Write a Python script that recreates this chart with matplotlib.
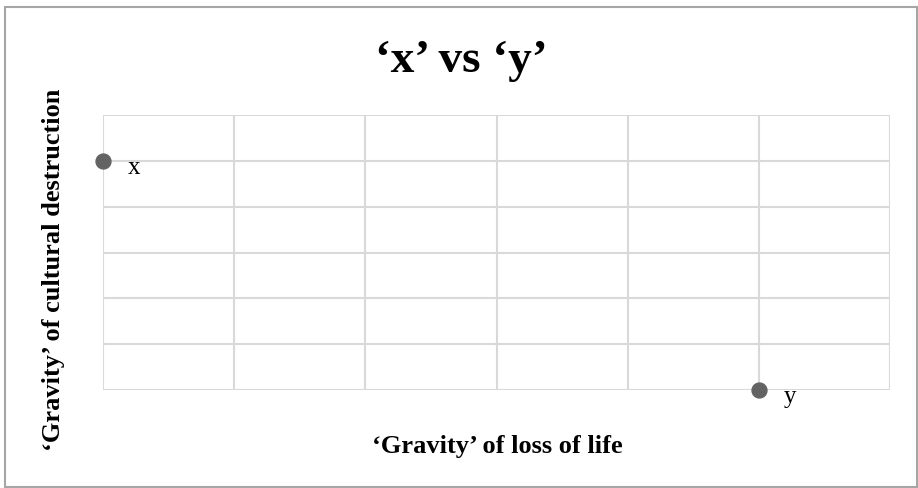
import matplotlib
matplotlib.use("Agg")
import matplotlib.pyplot as plt
from matplotlib.patches import Rectangle

labels = ["x", "y"]
x_vals = [0, 5]
y_vals = [5, 0]
x_max = 6
y_max = 6

plt.rcParams['font.family'] = ['Liberation Serif', 'DejaVu Serif']

fig = plt.figure(figsize=(9.18, 4.88), dpi=100)
W, H = 918, 488
ax = fig.add_axes([103 / W, 1 - 390 / H, (890 - 103) / W, (390 - 115) / H])

ax.set_xlim(0, x_max)
ax.set_ylim(0, y_max)
ax.set_xticks(range(0, x_max + 1))
ax.set_yticks(range(0, y_max + 1))
ax.tick_params(length=0, labelbottom=False, labelleft=False)
ax.grid(True, color='#d9d9d9', linewidth=1.5)
for s in ax.spines.values():
    s.set_visible(False)
ax.set_axisbelow(True)

ax.scatter(x_vals, y_vals, s=115, color='#636363', zorder=3, clip_on=False)
for lab, xv, yv in zip(labels, x_vals, y_vals):
    ax.annotate(lab, (xv, yv), xytext=(18, -9.4), textcoords='offset points',
                fontsize=18, va='baseline', ha='left', color='black')

fig.text(461 / W, 1 - 72 / H, "\u2018x\u2019 vs \u2018y\u2019", fontsize=34, fontweight='bold',
         ha='center', va='baseline')
fig.text(497 / W, 1 - 453 / H, "\u2018Gravity\u2019 of loss of life", fontsize=19,
         fontweight='bold', ha='center', va='baseline')
fig.text(54 / W, 1 - 270 / H, "\u2018Gravity\u2019 of cultural destruction", fontsize=19,
         fontweight='bold', ha='center', va='center', rotation=90)

fig.patches.append(Rectangle((5 / W, 1.5 / H), 912 / W, 480 / H, transform=fig.transFigure,
                             fill=False, edgecolor='#a6a6a6', linewidth=1.5))

fig.savefig("out.png", dpi=100)
